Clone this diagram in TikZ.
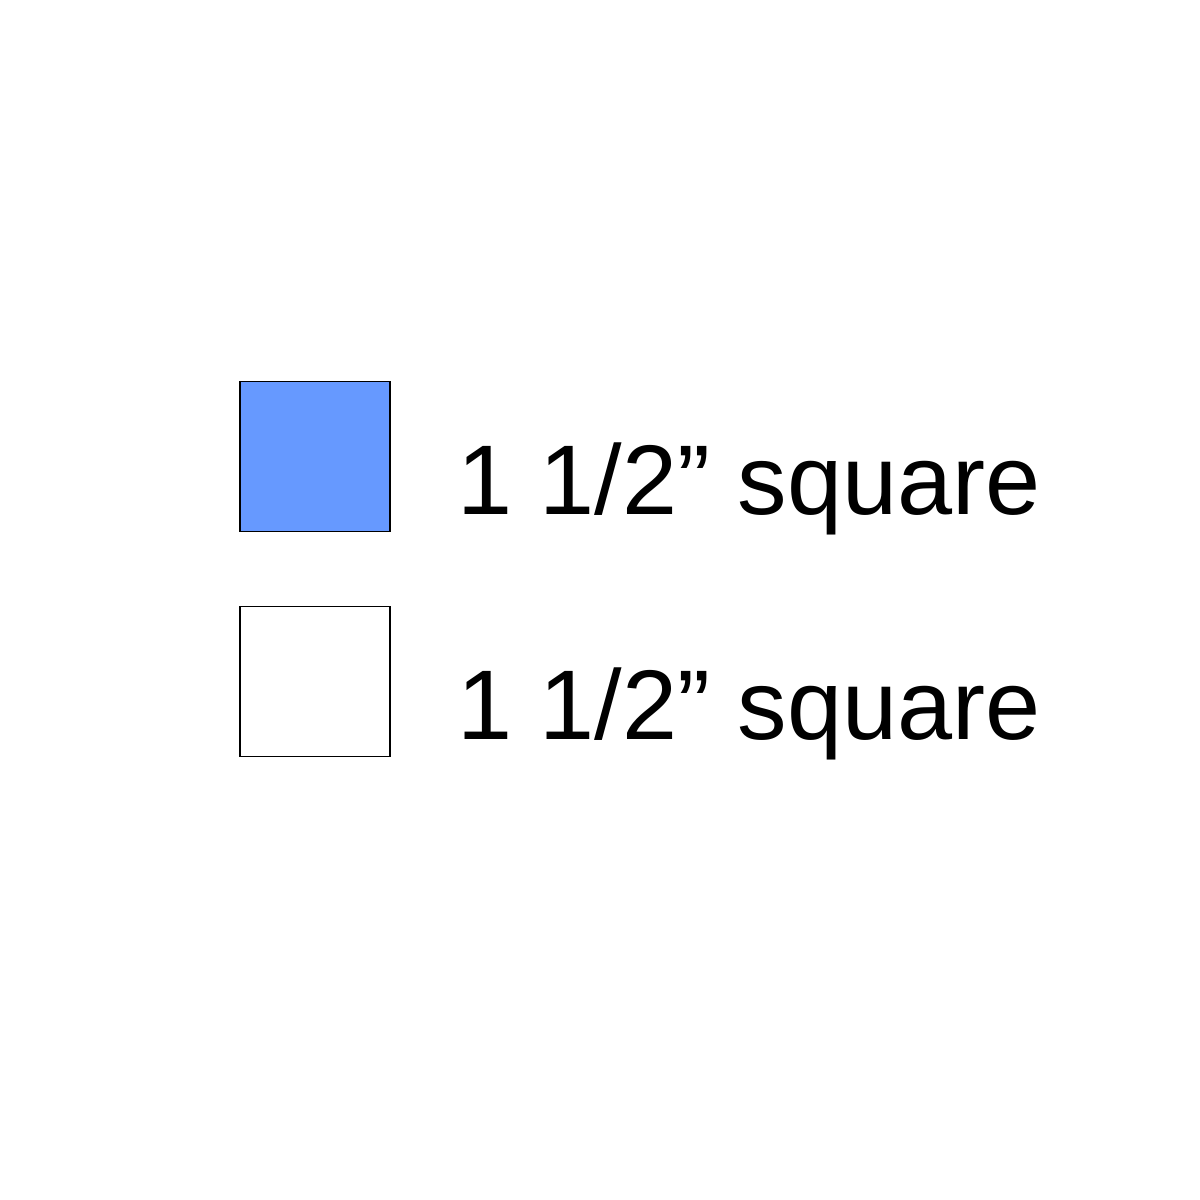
\documentclass[tikz,border=0pt]{standalone}
\usepackage{fontspec}
\setmainfont{Liberation Sans}
\definecolor{sqblue}{HTML}{6699FF}
\begin{document}
\begin{tikzpicture}[x=1pt,y=-1pt,
  sq/.style={draw=black,line width=1.3pt,minimum size=150pt,inner sep=0pt,outer sep=0pt,anchor=north west},
  lbl/.style={inner sep=0pt,anchor=base west,font=\fontsize{99}{120}\selectfont}]
\useasboundingbox[fill=white] (0,0) rectangle (1200,1200);
\node[sq,fill=sqblue] (b1) at (240,381.5) {};
\node[sq,fill=white] (b2) at (240,606.5) {};
\node[lbl] (t1) at (457,514) {1 1/2” square};
\node[lbl] (t2) at (457,739) {1 1/2” square};
\end{tikzpicture}
\end{document}
